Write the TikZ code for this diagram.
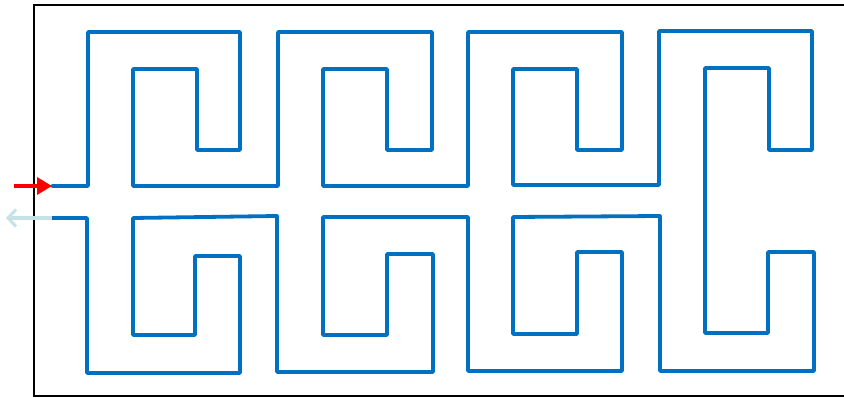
\documentclass[tikz,border=0pt]{standalone}
\usetikzlibrary{arrows.meta}
\definecolor{mazeblue}{RGB}{0,112,192}
\definecolor{paleblue}{RGB}{196,226,232}
\definecolor{inred}{RGB}{250,0,0}
\tikzset{
  frame/.style={line width=2pt, black},
  maze/.style={line width=3.8pt, mazeblue, line join=round, line cap=round},
  inarrow/.style={line width=3.5pt, inred, -{Triangle[length=15pt,width=17pt]}},
  outarrow/.style={line width=3.5pt, paleblue, -{Straight Barb[length=8pt,width=17pt,line width=3pt]}}
}
\begin{document}
\begin{tikzpicture}[x=1pt,y=-1pt]
\useasboundingbox (0,0) rectangle (844,398);
% frame
\draw[frame] (844,5) -- (33.5,5) -- (33.5,396) -- (844,396);
% named ends of the path
\coordinate (inStart) at (14,186);
\coordinate (inEnd) at (52,186);
\coordinate (outStart) at (52,218);
\coordinate (outEnd) at (6,218);
% upper half of the path
\draw[maze] (inEnd) -- (88,186) -- (88,32) -- (240,32) -- (240,150) -- (197,150) -- (197,69)
  -- (133,69) -- (133,186) -- (278,186) -- (278,32) -- (432,32) -- (432,150) -- (387,150)
  -- (387,69) -- (323,69) -- (323,186) -- (468,186) -- (468,32) -- (622,32) -- (622,150)
  -- (577,150) -- (577,69) -- (513,69) -- (513,185) -- (659,185) -- (659,31) -- (812,31)
  -- (812,150) -- (769,150) -- (769,68) -- (705,68) -- (705,333)
% lower half of the path
  -- (768,333) -- (768,252) -- (814,252) -- (814,371) -- (660,371) -- (660,216)
  -- (513,217) -- (513,334) -- (577,334) -- (577,252) -- (622,252) -- (622,371)
  -- (468,371) -- (468,217) -- (323,217) -- (323,335) -- (387,335) -- (387,254)
  -- (433,254) -- (433,372) -- (277,372) -- (277,216) -- (133,218) -- (133,335)
  -- (195,335) -- (195,256) -- (240,256) -- (240,373) -- (87,373) -- (87,218) -- (outStart);
% arrows
\draw[inarrow] (inStart) -- (inEnd);
\draw[outarrow] (outStart) -- (outEnd);
\end{tikzpicture}
\end{document}
